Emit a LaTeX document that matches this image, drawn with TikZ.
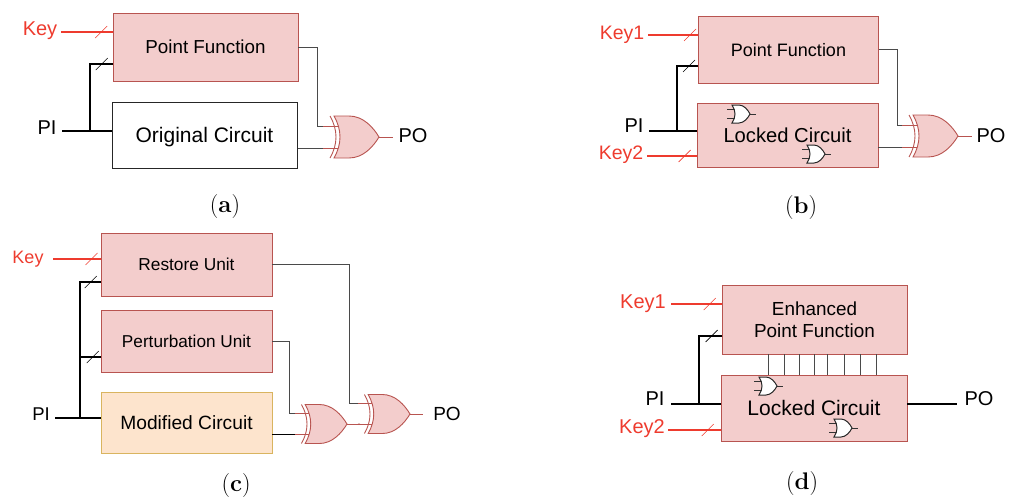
\documentclass[tikz,border=0pt]{standalone}
\usepackage{fontspec}
\setsansfont{Liberation Sans}
\usetikzlibrary{calc}

\definecolor{pinkfill}{HTML}{F3CDCC}
\definecolor{pinkline}{HTML}{B85450}
\definecolor{peachfill}{HTML}{FDE4CD}
\definecolor{peachline}{HTML}{D9B45F}
\definecolor{keyred}{HTML}{EE3B2E}
\definecolor{wiregray}{HTML}{4A4A4A}

\tikzset{
    pinkbox/.style={draw=pinkline, line width=0.9pt, fill=pinkfill, align=center, inner sep=0pt},
    peachbox/.style={draw=peachline, line width=0.9pt, fill=peachfill, align=center, inner sep=0pt},
    plainbox/.style={draw=black!85, line width=1pt, fill=white, align=center, inner sep=0pt},
    lbl/.style={font=\fontsize{#1}{22}\sffamily\selectfont, inner sep=0pt, text depth=0pt},
    lbl/.default=20,
    keylbl/.style={lbl=#1, text=keyred},
    keylbl/.default=20,
    caption/.style={font=\fontsize{24}{26}\selectfont, inner sep=0pt},
    keywire/.style={draw=keyred, line width=1.1pt},
    piwire/.style={draw=black, line width=1.6pt},
    sigwire/.style={draw=wiregray, line width=0.9pt},
    busslash/.pic={\draw[line width=0.6pt] (-6,6) -- (6,-6);},
    xorgate/.pic={
        \draw[pinkline, line width=0.9pt] (-56,-11) -- (-41,-11);
        \draw[pinkline, line width=0.9pt] (-56,11) -- (-41,11);
        \draw[pinkline, line width=0.9pt] (0,0) -- (14,0);
        \draw[pinkline, line width=0.9pt, fill=pinkfill] (-45,-21) -- (-30,-21) .. controls (-16,-21) and (-6,-10) .. (0,0) .. controls (-6,10) and (-16,21) .. (-30,21) -- (-45,21) .. controls (-37,7) and (-37,-7) .. (-45,-21) -- cycle;
        \draw[pinkline, line width=0.9pt] (-49,-21) .. controls (-41,-7) and (-41,7) .. (-49,21);
        \coordinate (-in1) at (-56,-11);
        \coordinate (-in2) at (-56,11);
        \coordinate (-out) at (14,0);
    },
    orgate/.pic={
        \draw[black!80, line width=0.7pt] (-23,-4.5) -- (-16,-4.5);
        \draw[black!80, line width=0.7pt] (-23,4.5) -- (-16,4.5);
        \draw[black!80, line width=0.7pt] (0,0) -- (6,0);
        \draw[black!85, line width=1pt, fill=white] (-18,-9) -- (-11,-9) .. controls (-6,-9) and (-2,-4) .. (0,0) .. controls (-2,4) and (-6,9) .. (-11,9) -- (-18,9) .. controls (-14,3) and (-14,-3) .. (-18,-9) -- cycle;
    },
}

\begin{document}
\begin{tikzpicture}[x=1pt, y=-1pt]
\useasboundingbox (0,0) rectangle (1017,498);

% (a)
\node[pinkbox, lbl=18.8, minimum width=185pt, minimum height=68pt] (pfA) at (205.5,47) {Point Function};
\node[plainbox, lbl=21, minimum width=185pt, minimum height=66pt] (origA) at (204.5,135) {Original Circuit};
\pic (xorA) at (379,137) {xorgate};
\node[keylbl] (keyA) at (40,29) {Key};
\node[lbl] (piA) at (47,128) {PI};
\node[lbl] (poA) at (413,136) {PO};
\node[caption] (capA) at (225,207) {(\textbf{a})};
\coordinate (keyinA) at (61,32);
\coordinate (piinA) at (62,131);
\coordinate (tapA) at (90,131);
\coordinate (busA) at (90,64);
\draw[keywire] (keyinA) -- pic[pos=0.78]{busslash} (keyinA -| pfA.west);
\draw[piwire] (piinA) -- (piinA -| origA.west);
\draw[piwire] (tapA) -- (busA) -- pic[pos=0.52]{busslash} (busA -| pfA.west);
\draw[sigwire] (pfA.east) -- ++(19,0) |- (xorA-in1);
\draw[sigwire] (xorA-in2 -| origA.east) -- (xorA-in2);

% (b)
\node[pinkbox, lbl=18, minimum width=180pt, minimum height=67pt] (pfB) at (788.5,49.5) {Point Function};
\node[pinkbox, lbl=20.2, minimum width=181pt, minimum height=64pt] (lockB) at (787.5,135) {Locked Circuit};
\pic (xorB) at (958,136) {xorgate};
\pic (orBa) at (750,114) {orgate};
\pic (orBb) at (825,154) {orgate};
\node[keylbl=19.5] (keyaB) at (622,33) {Key1};
\node[keylbl=19.5] (keybB) at (621,153) {Key2};
\node[lbl] (piB) at (634,126) {PI};
\node[lbl] (poB) at (991,136) {PO};
\node[caption] (capB) at (801,208) {(\textbf{b})};
\coordinate (keyinaB) at (648,35);
\coordinate (keyinbB) at (647,156);
\coordinate (piinB) at (649,131);
\coordinate (tapB) at (677,131);
\coordinate (busB) at (677,66);
\draw[keywire] (keyinaB) -- pic[pos=0.84]{busslash} (keyinaB -| pfB.west);
\draw[keywire] (keyinbB) -- pic[pos=0.76]{busslash} (keyinbB -| lockB.west);
\draw[piwire] (piinB) -- (piinB -| lockB.west);
\draw[piwire] (tapB) -- (busB) -- pic[pos=0.57]{busslash} (busB -| pfB.west);
\draw[sigwire] (pfB.east) -- ++(18,0) |- (xorB-in1);
\draw[sigwire] (xorB-in2 -| lockB.east) -- (xorB-in2);

% (c)
\node[pinkbox, lbl=17.3, minimum width=171pt, minimum height=63pt] (restC) at (186.5,264.5) {Restore Unit};
\node[pinkbox, lbl=17.2, minimum width=171pt, minimum height=62pt] (pertC) at (186.5,341) {Perturbation Unit};
\node[peachbox, lbl=19.2, minimum width=171pt, minimum height=61pt] (modC) at (186.5,422.5) {Modified Circuit};
\pic[scale=0.93] (xorCa) at (347,424) {xorgate};
\pic[scale=0.93] (xorCb) at (410,414) {xorgate};
\node[keylbl=18] (keyC) at (28,257) {Key};
\node[lbl=18.5] (piC) at (41,414) {PI};
\node[lbl=19] (poC) at (447,414) {PO};
\node[caption] (capC) at (236,486) {(\textbf{c})};
\coordinate (keyinC) at (53,259);
\coordinate (piinC) at (55,418);
\coordinate (tapC) at (80,418);
\coordinate (busC) at (80,282);
\coordinate (forkC) at (80,357);
\draw[keywire] (keyinC) -- pic[pos=0.81]{busslash} (keyinC -| restC.west);
\draw[piwire] (piinC) -- (piinC -| modC.west);
\draw[piwire] (tapC) -- (busC) -- pic[pos=0.52]{busslash} (busC -| restC.west);
\draw[piwire] (forkC) -- pic[pos=0.62]{busslash} (forkC -| pertC.west);
\draw[sigwire] (restC.east) -- ++(77,0) |- (xorCb-in1);
\draw[sigwire] (pertC.east) -- ++(17,0) |- (xorCa-in1);
\draw[draw=black, line width=0.9pt] (xorCa-in2 -| modC.east) -- (xorCa-in2);
\draw[draw=pinkline, line width=0.9pt] (xorCa-out) -- (xorCb-in2);

% (d)
\node[pinkbox, lbl=18.9, minimum width=185pt, minimum height=69pt] (epfD) at (814.5,319.5) {Enhanced\\Point Function};
\node[pinkbox, lbl=21, minimum width=186pt, minimum height=66pt] (lockD) at (814,408) {Locked Circuit};
\pic (orDa) at (777,386) {orgate};
\pic (orDb) at (852,428) {orgate};
\node[keylbl] (keyaD) at (643,302) {Key1};
\node[keylbl] (keybD) at (642,427) {Key2};
\node[lbl] (piD) at (655,399) {PI};
\node[lbl] (poD) at (979,399) {PO};
\node[caption] (capD) at (802,484) {(\textbf{d})};
\coordinate (keyinaD) at (671,304);
\coordinate (keyinbD) at (668,430);
\coordinate (piinD) at (671,404);
\coordinate (tapD) at (699,404);
\coordinate (busD) at (699,336);
\coordinate (pooutD) at (957,404);
\draw[keywire] (keyinaD) -- pic[pos=0.765]{busslash} (keyinaD -| epfD.west);
\draw[keywire] (keyinbD) -- pic[pos=0.755]{busslash} (keyinbD -| lockD.west);
\draw[piwire] (piinD) -- (piinD -| lockD.west);
\draw[piwire] (tapD) -- (busD) -- pic[pos=0.56]{busslash} (busD -| epfD.west);
\draw[piwire] (pooutD -| lockD.east) -- (pooutD);
\foreach \x in {768,784.3,799.7,814.3,827,844,860.7,876.7} {
    \coordinate (linkD) at (\x,365);
    \draw[sigwire] (linkD |- epfD.south) -- (linkD |- lockD.north);
}

\end{tikzpicture}
\end{document}
